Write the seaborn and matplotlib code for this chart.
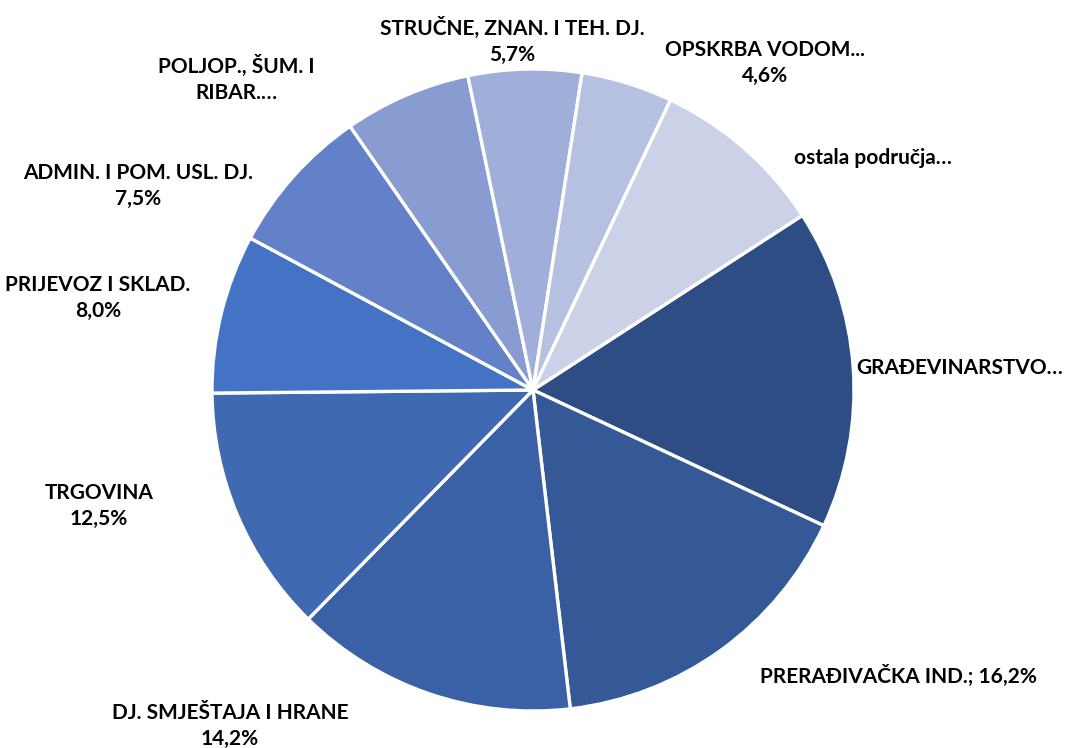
import matplotlib
matplotlib.use("Agg")
import matplotlib.pyplot as plt
import seaborn as sns

# shares by activity (clockwise from GRAĐEVINARSTVO)
sectors = ["GRAĐEVINARSTVO", "PRERAĐIVAČKA IND.", "DJ. SMJEŠTAJA I HRANE", "TRGOVINA",
           "PRIJEVOZ I SKLAD.", "ADMIN. I POM. USL. DJ.", "POLJOP., ŠUM. I RIBAR.",
           "STRUČNE, ZNAN. I TEH. DJ.", "OPSKRBA VODOM", "ostala područja"]
shares = [16.1, 16.2, 14.2, 12.5, 8.0, 7.5, 6.4, 5.7, 4.6, 8.8]
label_texts = ["GRAĐEVINARSTVO…", "PRERAĐIVAČKA IND.; 16,2%", "DJ. SMJEŠTAJA I HRANE\n14,2%",
               "TRGOVINA\n12,5%", "PRIJEVOZ I SKLAD.\n8,0%", "ADMIN. I POM. USL. DJ.\n7,5%",
               "POLJOP., ŠUM. I\nRIBAR.…", "STRUČNE, ZNAN. I TEH. DJ.\n5,7%",
               "OPSKRBA VODOM...\n4,6%", "ostala područja…"]
colors = ["#2E4D85", "#355896", "#3A60A6", "#3F69B1", "#4472C4",
          "#6381C8", "#899CD2", "#A0AFD9", "#B6C1E1", "#CBD2E7"]

# label centres in pixels of the 1065x748 canvas
label_px = [(960, 368), (898, 676), (230, 726), (99, 506), (98, 298),
            (138, 186), (236, 79), (512, 41), (765, 63), (873, 158)]

sns.set_theme(style="white")
plt.rcParams["font.family"] = ["Lato", "DejaVu Sans"]

W, H = 1065, 748
cx, cy, r = 533, 390, 321
fig = plt.figure(figsize=(W / 100, H / 100), dpi=100)
ax = fig.add_axes([(cx - r) / W, (H - cy - r) / H, 2 * r / W, 2 * r / H])

ax.pie(shares, colors=colors, startangle=90 - 57.05, counterclock=False,
       radius=1, wedgeprops=dict(edgecolor="white", linewidth=2.4))

for txt, (px, py) in zip(label_texts, label_px):
    ax.text((px - cx) / r, (cy - py) / r, txt, ha="center", va="center",
            fontsize=15, fontweight="bold", color="black", linespacing=1.38)

ax.set_xlim(-1, 1)
ax.set_ylim(-1, 1)
ax.set_aspect("equal")
ax.axis("off")

fig.savefig("out.png", dpi=100)
